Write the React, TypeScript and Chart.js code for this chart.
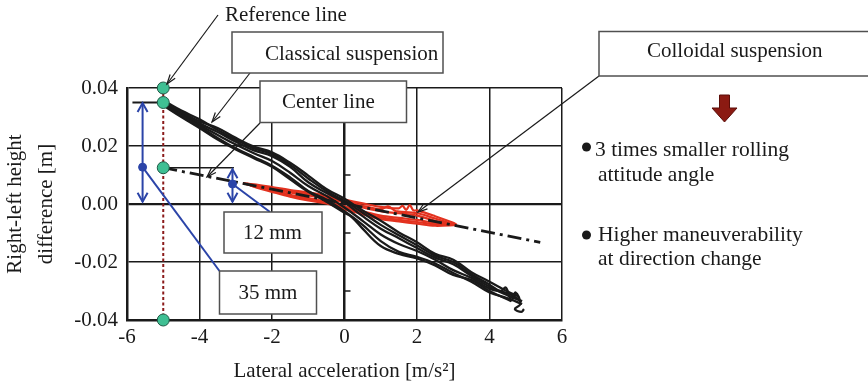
import React, { useEffect, useRef } from 'react';
import { Chart, registerables } from 'chart.js';

Chart.register(...registerables);

type P = [number, number];

// ---- axis ticks ----
const xTicks = [-6, -4, -2, 0, 2, 4, 6];
const yTicks = [-0.04, -0.02, 0, 0.02, 0.04];
const minorTicksOnZeroAxis = [0.03, 0.01, -0.01, -0.03];

// ---- classical suspension passes (lateral acc, height diff) ----
const classical1: P[] = [[-5.0, 0.0352], [-4.5, 0.0318], [-4.0, 0.0285], [-3.5, 0.0262], [-3.0, 0.0228], [-2.5, 0.0198], [-2.0, 0.0178], [-1.5, 0.0142], [-1.0, 0.0098], [-0.5, 0.0052], [0, 0.0018], [0.5, -0.0022], [1.0, -0.0058], [1.5, -0.0098], [2.0, -0.0132], [2.5, -0.0172], [3.0, -0.0192], [3.5, -0.0235], [4.0, -0.0268], [4.5, -0.0302], [4.8, -0.0318]];
const classical2: P[] = [[4.9, -0.0345], [4.5, -0.0325], [4.0, -0.0305], [3.5, -0.0268], [3.0, -0.0238], [2.5, -0.0205], [2.0, -0.0182], [1.5, -0.0165], [1.0, -0.0128], [0.5, -0.0072], [0, -0.0025], [-0.5, 0.0015], [-1.0, 0.0045], [-1.5, 0.0092], [-2.0, 0.0132], [-2.5, 0.0162], [-3.0, 0.0192], [-3.5, 0.0228], [-4.0, 0.0268], [-4.5, 0.0305], [-5.0, 0.0342]];
const classical3: P[] = [[-5.0, 0.0348], [-4.5, 0.0312], [-4.0, 0.0278], [-3.5, 0.0248], [-3.0, 0.0215], [-2.5, 0.0185], [-2.0, 0.0165], [-1.5, 0.0128], [-1.0, 0.0075], [-0.5, 0.0038], [0, 0.0005], [0.5, -0.0042], [1.0, -0.0085], [1.5, -0.0118], [2.0, -0.0152], [2.5, -0.0185], [3.0, -0.0208], [3.5, -0.0248], [4.0, -0.0285], [4.5, -0.0315], [4.9, -0.0335]];
const classical4: P[] = [[4.8, -0.0328], [4.5, -0.0308], [4.0, -0.0292], [3.5, -0.0255], [3.0, -0.0228], [2.5, -0.0192], [2.0, -0.0162], [1.5, -0.0138], [1.0, -0.0105], [0.5, -0.0058], [0, -0.0012], [-0.5, 0.0028], [-1.0, 0.0062], [-1.5, 0.0108], [-2.0, 0.0148], [-2.5, 0.0175], [-3.0, 0.0205], [-3.5, 0.0238], [-4.0, 0.0272], [-4.5, 0.0308], [-5.0, 0.0345]];
const classical5: P[] = [[-4.9, 0.0350], [-4.5, 0.0322], [-4.0, 0.0292], [-3.5, 0.0255], [-3.0, 0.0222], [-2.5, 0.0192], [-2.0, 0.0172], [-1.5, 0.0135], [-1.0, 0.0088], [-0.5, 0.0045], [0, 0.0010], [0.5, -0.0030], [1.0, -0.0072], [1.5, -0.0108], [2.0, -0.0142], [2.5, -0.0178], [3.0, -0.0200], [3.5, -0.0242], [4.0, -0.0278], [4.3, -0.0300], [4.45, -0.0288], [4.6, -0.0332], [4.72, -0.0305], [4.85, -0.0345], [4.7, -0.0362], [4.88, -0.0372], [4.95, -0.0362]];
const classical6: P[] = [[4.6, -0.0335], [4.0, -0.0300], [3.5, -0.0262], [3.0, -0.0245], [2.5, -0.0212], [2.0, -0.0188], [1.5, -0.0172], [1.0, -0.0145], [0.5, -0.0085], [0.2, -0.0045], [0, -0.0030], [-0.5, 0.0008], [-1.0, 0.0042], [-1.5, 0.0085], [-2.0, 0.0128], [-2.5, 0.0158], [-3.0, 0.0188], [-3.5, 0.0222], [-4.0, 0.0262], [-4.5, 0.0300], [-5.0, 0.0340]];

// ---- colloidal suspension passes ----
const colloidal1: P[] = [[-2.8, 0.0072], [-2.5, 0.0068], [-2.0, 0.0058], [-1.5, 0.0048], [-1.0, 0.0040], [-0.5, 0.0028], [0, 0.0015], [0.5, 0.0002], [1.0, -0.0010], [1.5, -0.0015], [1.6, -0.0006], [1.7, -0.0020], [1.8, -0.0004], [1.9, -0.0022], [2.0, -0.0022], [2.5, -0.0042], [3.0, -0.0065], [3.1, -0.0072]];
const colloidal2: P[] = [[3.1, -0.0072], [2.5, -0.0075], [2.0, -0.0068], [1.5, -0.0060], [1.0, -0.0052], [0.5, -0.0035], [0, -0.0018], [-0.5, 0.0002], [-1.0, 0.0012], [-1.5, 0.0025], [-2.0, 0.0042], [-2.5, 0.0060], [-2.8, 0.0072]];
const colloidal3: P[] = [[-2.7, 0.0070], [-2.0, 0.0052], [-1.5, 0.0040], [-1.0, 0.0030], [-0.5, 0.0018], [0, 0.0005], [0.5, -0.0012], [1.0, -0.0025], [1.5, -0.0032], [2.0, -0.0040], [2.5, -0.0058], [3.0, -0.0070]];
const colloidal4: P[] = [[3.0, -0.0068], [2.5, -0.0065], [2.0, -0.0055], [1.5, -0.0048], [1.0, -0.0040], [0.5, -0.0025], [0, -0.0008], [-0.5, 0.0008], [-1.0, 0.0020], [-1.5, 0.0032], [-2.0, 0.0048], [-2.7, 0.0068]];
const colloidal5: P[] = [[-2.6, 0.0066], [-2.0, 0.0055], [-1.5, 0.0044], [-1.0, 0.0035], [-0.5, 0.0022], [0, 0.0010], [0.5, -0.0006], [1.0, -0.0018], [1.2, -0.0008], [1.4, -0.0024], [1.5, -0.0026], [2.0, -0.0032], [2.5, -0.0050], [2.9, -0.0066]];
const colloidal6: P[] = [[2.9, -0.0070], [2.5, -0.0070], [2.0, -0.0062], [1.5, -0.0055], [1.0, -0.0046], [0.5, -0.0030], [0, -0.0013], [-0.5, 0.0004], [-1.0, 0.0016], [-1.5, 0.0028], [-2.0, 0.0045], [-2.6, 0.0064]];

// ---- reference / center lines and markers ----
const centerLine: P[] = [[-5.0, 0.0125], [5.4, -0.0132]];
const referenceLine: P[] = [[-5.0, 0.04], [-5.0, -0.04]];
const referenceMarkers: P[] = [[-5.0, 0.04], [-5.0, 0.035], [-5.0, 0.0125], [-5.0, -0.04]];
const classicalLevel: P[] = [[-5.85, 0.035], [-4.95, 0.035]];
const centerLevel: P[] = [[-5.0, 0.0125], [-3.05, 0.0125]];
const span35: P[] = [[-5.57, 0.0348], [-5.57, 0.0008]];
const span12: P[] = [[-3.09, 0.0120], [-3.09, 0.0008]];
const spanDots: P[] = [[-5.57, 0.0127], [-3.09, 0.0069]];

const FONT = "'Liberation Serif', 'Times New Roman', serif";
const BLUE = '#2b44a8';
const INK = '#1a1a1a';
const RED = '#e3321f';

const toXY = (arr: P[]) => arr.map(([x, y]) => ({ x, y }));

function line(data: P[], color: string, width: number, order: number, extra: any = {}) {
  return {
    data: toXY(data),
    showLine: true,
    borderColor: color,
    borderWidth: width,
    pointRadius: 0,
    fill: false,
    order,
    ...extra,
  };
}

const annotationPlugin = {
  id: 'annotations',
  afterDatasetsDraw(chart: any) {
    const { ctx, scales } = chart;
    const xs = scales.x;
    const ys = scales.y;
    ctx.save();
    // minor ticks on the zero axis
    ctx.strokeStyle = INK;
    ctx.lineWidth = 1.5;
    const x0 = xs.getPixelForValue(0);
    minorTicksOnZeroAxis.forEach((v) => {
      const py = ys.getPixelForValue(v);
      ctx.beginPath();
      ctx.moveTo(x0, py);
      ctx.lineTo(x0 + 6, py);
      ctx.stroke();
    });
    // blue arrowheads
    ctx.strokeStyle = BLUE;
    ctx.lineWidth = 2;
    [span35, span12].forEach((s) => {
      const px = xs.getPixelForValue(s[0][0]);
      const top = ys.getPixelForValue(s[0][1]);
      const bot = ys.getPixelForValue(s[1][1]);
      ctx.beginPath();
      ctx.moveTo(px - 5, top + 9);
      ctx.lineTo(px, top);
      ctx.lineTo(px + 5, top + 9);
      ctx.moveTo(px - 5, bot - 9);
      ctx.lineTo(px, bot);
      ctx.lineTo(px + 5, bot - 9);
      ctx.stroke();
    });
    // blue connectors from span dots to label boxes
    const ends: P[] = [[219.5, 271], [270, 212]];
    spanDots.forEach((d, i) => {
      ctx.beginPath();
      ctx.moveTo(xs.getPixelForValue(d[0]), ys.getPixelForValue(d[1]));
      ctx.lineTo(ends[i][0], ends[i][1]);
      ctx.stroke();
    });
    ctx.restore();
  },
  afterDraw(chart: any) {
    const { ctx } = chart;
    ctx.save();
    const arrow = (x1: number, y1: number, x2: number, y2: number) => {
      ctx.strokeStyle = INK;
      ctx.lineWidth = 1.2;
      ctx.beginPath();
      ctx.moveTo(x1, y1);
      ctx.lineTo(x2, y2);
      ctx.stroke();
      const a = Math.atan2(y2 - y1, x2 - x1);
      const L = 10;
      ctx.beginPath();
      ctx.moveTo(x2 - L * Math.cos(a - 0.32), y2 - L * Math.sin(a - 0.32));
      ctx.lineTo(x2, y2);
      ctx.lineTo(x2 - L * Math.cos(a + 0.32), y2 - L * Math.sin(a + 0.32));
      ctx.stroke();
    };
    arrow(218, 15, 167, 84);
    arrow(250, 73, 212, 122);
    arrow(260, 123, 207, 177);
    arrow(599, 76, 418, 212);

    const box = (l: number, t: number, r: number, b: number) => {
      ctx.fillStyle = '#ffffff';
      ctx.fillRect(l, t, r - l, b - t);
      ctx.strokeStyle = '#505050';
      ctx.lineWidth = 1.5;
      ctx.strokeRect(l, t, r - l, b - t);
    };
    box(232, 32, 443, 73);
    box(260, 81, 406.5, 122.5);
    box(599, 31.5, 880, 76);
    box(224, 212, 322, 253);
    box(219.5, 271, 316.5, 314);

    ctx.fillStyle = INK;
    ctx.font = `21px ${FONT}`;
    ctx.textAlign = 'left';
    ctx.textBaseline = 'alphabetic';
    ctx.fillText('Reference line', 225, 21);
    ctx.fillText('Classical suspension', 265, 60);
    ctx.fillText('Center line', 282, 108);
    ctx.fillText('Colloidal suspension', 647, 57);
    ctx.fillText('12 mm', 243, 239);
    ctx.fillText('35 mm', 238.5, 299);

    // dark red down arrow
    ctx.fillStyle = '#8b1a12';
    ctx.strokeStyle = '#5a0d08';
    ctx.lineWidth = 1;
    const cx = 724.5;
    ctx.beginPath();
    ctx.moveTo(cx - 5, 95);
    ctx.lineTo(cx + 5, 95);
    ctx.lineTo(cx + 5, 108);
    ctx.lineTo(cx + 12.5, 108);
    ctx.lineTo(cx, 122);
    ctx.lineTo(cx - 12.5, 108);
    ctx.lineTo(cx - 5, 108);
    ctx.closePath();
    ctx.fill();
    ctx.stroke();

    // bullet list
    ctx.fillStyle = INK;
    [[586.5, 147], [586.5, 235]].forEach(([bx, by]) => {
      ctx.beginPath();
      ctx.arc(bx, by, 4.5, 0, Math.PI * 2);
      ctx.fill();
    });
    ctx.font = `21.5px ${FONT}`;
    ctx.fillText('3 times smaller rolling', 595, 156);
    ctx.fillText('attitude angle', 598, 180.5);
    ctx.fillText('Higher maneuverability', 598, 241);
    ctx.fillText('at direction change', 598, 265);
    ctx.restore();
  },
};

export default function App() {
  const ref = useRef<HTMLCanvasElement | null>(null);

  useEffect(() => {
    if (!ref.current) return;
    Chart.defaults.font.family = FONT;
    const classical = [classical1, classical2, classical3, classical4, classical5, classical6];
    const colloidal = [colloidal1, colloidal2, colloidal3, colloidal4, colloidal5, colloidal6];

    const datasets: any[] = [
      line(referenceLine, '#8b1a1a', 2, 7, { borderDash: [3, 2.5], clip: false }),
      ...colloidal.map((c) => line(c, RED, 2.2, 6, { tension: 0.35 })),
      line(centerLine, INK, 2.8, 5, { borderDash: [14, 5, 3, 5] }),
      ...classical.map((c) => line(c, INK, 2.3, 4, { tension: 0.4 })),
      line(classicalLevel, INK, 2, 3),
      line(centerLevel, INK, 1.6, 3),
      line(span35, BLUE, 2, 2),
      line(span12, BLUE, 2, 2),
      {
        data: toXY(spanDots),
        showLine: false,
        pointRadius: 4,
        pointBackgroundColor: BLUE,
        pointBorderColor: BLUE,
        order: 1,
        clip: false,
      },
      {
        data: toXY(referenceMarkers),
        showLine: false,
        pointRadius: 6,
        pointBackgroundColor: '#3fbf93',
        pointBorderColor: '#1f5a46',
        pointBorderWidth: 1,
        order: 0,
        clip: false,
      },
    ];

    const chart = new Chart(ref.current, {
      type: 'scatter',
      data: { datasets },
      plugins: [annotationPlugin],
      options: {
        animation: false,
        responsive: false,
        devicePixelRatio: 1,
        layout: { padding: { top: 88, right: 306, bottom: 0, left: 0 } },
        plugins: { legend: { display: false }, tooltip: { enabled: false } },
        scales: {
          x: {
            type: 'linear',
            min: -6,
            max: 6,
            afterFit: (s: any) => { s.height = 64; },
            afterBuildTicks: (s: any) => { s.ticks = xTicks.map((v) => ({ value: v })); },
            ticks: {
              padding: 5,
              color: INK,
              font: { size: 21, family: FONT },
              callback: (v: any) => String(v),
              maxRotation: 0,
            },
            grid: {
              color: INK,
              lineWidth: (c: any) => (c.tick && c.tick.value === 0 ? 2.5 : 1.5),
              drawTicks: false,
            },
            border: { display: true, color: INK, width: 2.5 },
            title: {
              display: true,
              text: 'Lateral acceleration [m/s²]',
              color: INK,
              font: { size: 21, family: FONT },
              padding: { top: 0, bottom: 0 },
            },
          },
          y: {
            type: 'linear',
            min: -0.04,
            max: 0.04,
            afterFit: (s: any) => { s.width = 127; },
            afterBuildTicks: (s: any) => { s.ticks = yTicks.map((v) => ({ value: v })); },
            ticks: {
              padding: 9,
              color: INK,
              font: { size: 21, family: FONT },
              callback: (v: any) => Number(v).toFixed(2),
            },
            grid: {
              color: INK,
              lineWidth: (c: any) => (c.tick && c.tick.value === 0 ? 2.2 : 1.5),
              drawTicks: false,
            },
            border: { display: true, color: INK, width: 2.5 },
            title: {
              display: true,
              text: ['Right-left height', 'difference [m]'],
              color: INK,
              font: { size: 21, family: FONT, lineHeight: 1.48 },
              padding: { top: 0, bottom: 0 },
            },
          },
        },
      } as any,
    });
    return () => chart.destroy();
  }, []);

  return (
    <div style={{ position: 'absolute', left: 0, top: 0, width: 868, height: 384, background: '#fff' }}>
      <canvas ref={ref} width={868} height={384} />
    </div>
  );
}
